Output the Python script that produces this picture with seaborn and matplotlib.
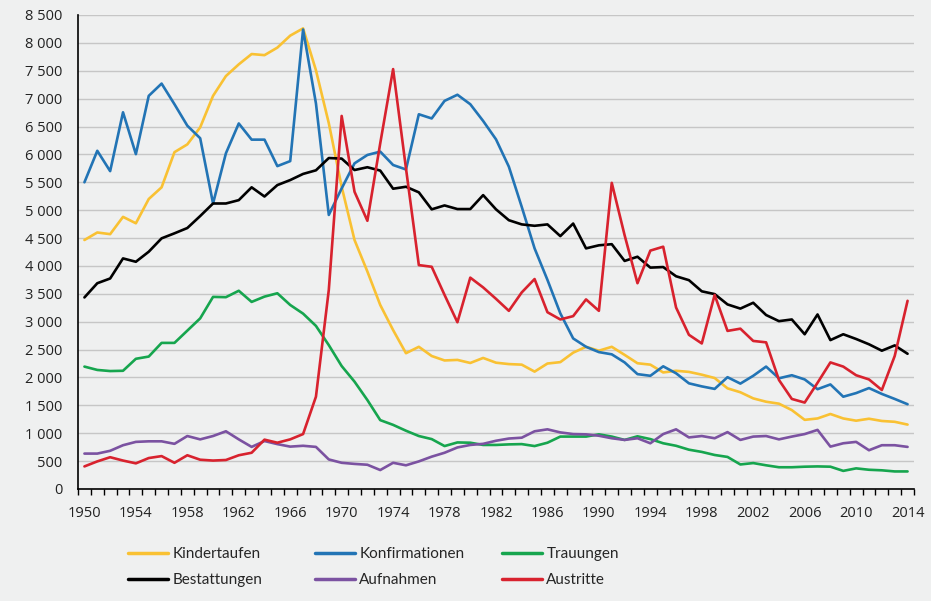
import numpy as np
import pandas as pd
import seaborn as sns
from matplotlib import pyplot as plt
from matplotlib.ticker import FuncFormatter, MultipleLocator, FixedLocator

years = list(range(1950, 2015))

kindertaufen = [4465, 4600, 4570, 4880, 4765, 5200, 5410, 6040, 6180, 6485,
                7050, 7405, 7615, 7800, 7780, 7915, 8130, 8260, 7510, 6560,
                5420, 4465, 3900, 3300, 2850, 2435, 2550, 2385, 2305, 2315,
                2260, 2350, 2265, 2240, 2230, 2105, 2250, 2275, 2445, 2550,
                2480, 2550, 2405, 2255, 2230, 2090, 2120, 2100, 2050, 1990,
                1805, 1735, 1625, 1565, 1530, 1415, 1240, 1265, 1345, 1265,
                1225, 1260, 1220, 1205, 1155]

konfirmationen = [5500, 6065, 5700, 6755, 6005, 7050, 7270, 6900, 6515, 6290,
                  5120, 6020, 6555, 6265, 6265, 5790, 5880, 8240, 6915, 4915,
                  5390, 5840, 5990, 6050, 5810, 5730, 6720, 6645, 6960, 7070,
                  6900, 6600, 6270, 5780, 5060, 4315, 3750, 3150, 2700, 2550,
                  2455, 2415, 2270, 2060, 2030, 2200, 2075, 1895, 1840, 1795,
                  2005, 1890, 2030, 2195, 1985, 2040, 1965, 1790, 1875, 1655,
                  1720, 1810, 1705, 1615, 1520]

trauungen = [2195, 2135, 2115, 2120, 2335, 2375, 2620, 2620, 2840, 3060,
             3445, 3440, 3555, 3355, 3450, 3510, 3300, 3145, 2925, 2580,
             2205, 1925, 1595, 1235, 1150, 1045, 950, 895, 770, 835,
             830, 790, 790, 800, 805, 770, 830, 940, 940, 940,
             980, 940, 880, 945, 895, 820, 775, 705, 665, 610,
             575, 440, 465, 425, 390, 390, 400, 405, 400, 325,
             370, 345, 335, 315, 315]

bestattungen = [3435, 3690, 3775, 4135, 4075, 4255, 4495, 4585, 4680, 4895,
                5120, 5120, 5180, 5410, 5245, 5450, 5540, 5650, 5715, 5935,
                5925, 5720, 5770, 5710, 5385, 5420, 5320, 5015, 5085, 5020,
                5020, 5270, 5015, 4820, 4745, 4720, 4745, 4535, 4760, 4315,
                4370, 4390, 4090, 4165, 3970, 3980, 3815, 3745, 3545, 3495,
                3310, 3235, 3340, 3120, 3010, 3040, 2775, 3130, 2670, 2775,
                2690, 2595, 2480, 2575, 2425]

aufnahmen = [635, 635, 685, 785, 845, 855, 855, 810, 950, 890,
             950, 1035, 890, 755, 860, 805, 760, 775, 755, 530,
             470, 450, 435, 340, 470, 425, 495, 580, 650, 745,
             790, 810, 865, 905, 920, 1035, 1070, 1015, 985, 980,
             955, 910, 880, 910, 820, 985, 1070, 925, 950, 910,
             1020, 880, 940, 950, 890, 940, 985, 1060, 760, 820,
             845, 695, 785, 785, 755]

austritte = [405, 495, 570, 510, 460, 555, 590, 470, 605, 525,
             510, 520, 605, 650, 885, 830, 890, 985, 1655, 3570,
             6690, 5330, 4810, 6200, 7530, 5750, 4015, 3985, 3480, 2990,
             3790, 3615, 3410, 3195, 3525, 3765, 3170, 3040, 3100, 3400,
             3195, 5490, 4550, 3690, 4275, 4345, 3255, 2765, 2610, 3480,
             2835, 2875, 2655, 2630, 1955, 1615, 1550, 1905, 2270, 2195,
             2040, 1965, 1775, 2385, 3375]

names = ['Kindertaufen', 'Konfirmationen', 'Trauungen',
         'Bestattungen', 'Aufnahmen', 'Austritte']
color_list = ['#F9C133', '#2274B5', '#16A54E', '#000000', '#7B52A1', '#D8222E']

df = pd.DataFrame({'Jahr': years,
                   'Kindertaufen': kindertaufen,
                   'Konfirmationen': konfirmationen,
                   'Trauungen': trauungen,
                   'Bestattungen': bestattungen,
                   'Aufnahmen': aufnahmen,
                   'Austritte': austritte})
long_df = pd.melt(df, ['Jahr'], var_name='Reihe', value_name='Anzahl')

bg = '#EFF0F0'
sns.set_style('white', {'axes.facecolor': bg, 'figure.facecolor': bg})
plt.rcParams['font.family'] = ['Open Sans', 'DejaVu Sans']

fig = plt.figure(figsize=(9.31, 6.01), dpi=100)
ax = fig.add_axes([78 / 931, 1 - 489 / 601, (914 - 78) / 931, (489 - 15) / 601])

sns.lineplot(x='Jahr', y='Anzahl', hue='Reihe', data=long_df, hue_order=names,
             palette=color_list, linewidth=1.9, legend=False, ax=ax)

ax.set_xlim(1949.5, 2014.5)
ax.set_ylim(0, 8500)
ax.set_xlabel('')
ax.set_ylabel('')

ax.yaxis.set_major_locator(MultipleLocator(500))
ax.yaxis.set_major_formatter(FuncFormatter(lambda v, p: f'{int(v):,}'.replace(',', ' ')))
ax.xaxis.set_major_locator(FixedLocator(list(range(1950, 2015, 4))))
ax.xaxis.set_minor_locator(FixedLocator(list(np.arange(1949.5, 2015, 1.0))))
ax.tick_params(axis='y', which='major', length=5, width=1, color='black',
               labelsize=10.5, pad=6, labelcolor='#222222')
ax.tick_params(axis='x', which='major', length=0, labelsize=10.5, pad=12,
               labelcolor='#222222')
ax.tick_params(axis='x', which='minor', length=4, width=1, color='black',
               bottom=True)

ax.grid(axis='y', color='#C6C6C6', linewidth=1)
ax.set_axisbelow(True)
for side in ['top', 'right']:
    ax.spines[side].set_visible(False)
for side in ['left', 'bottom']:
    ax.spines[side].set_color('black')
    ax.spines[side].set_linewidth(1.2)

# one legend per column, so the columns sit where they sit in the original
lines = ax.get_lines()[:6]
col_x = [128, 315, 502]
for c in range(3):
    leg = fig.legend([lines[c], lines[c + 3]], [names[c], names[c + 3]],
                     loc='upper left', bbox_to_anchor=(col_x[c] / 931, 1 - 547 / 601),
                     ncol=1, frameon=False, borderpad=0, borderaxespad=0,
                     handlelength=2.6, handletextpad=0.3, labelspacing=0.8,
                     prop={'family': 'Lato', 'size': 11})
    for leg_line in leg.get_lines():
        leg_line.set_linewidth(2.5)

plt.savefig('out.png', dpi=100, facecolor=bg)
